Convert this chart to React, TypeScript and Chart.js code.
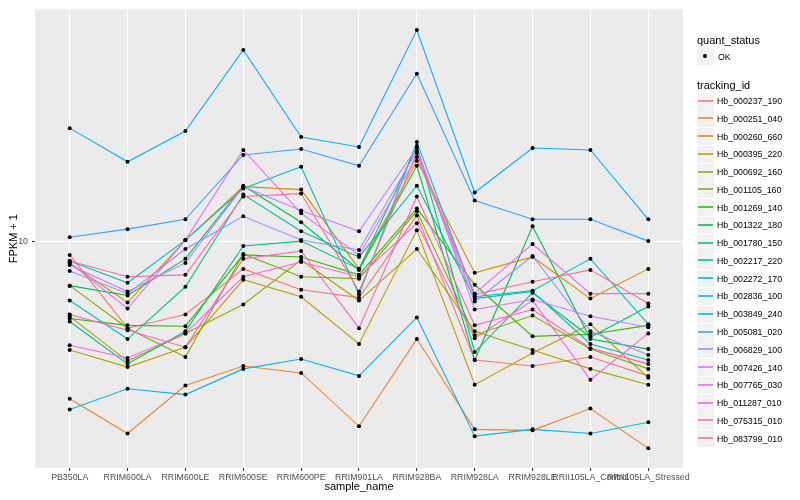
import { useEffect, useRef } from "react";
import { Chart, registerables } from "chart.js";

Chart.register(...registerables);

const FONT = "'Liberation Sans', Arial, Helvetica, sans-serif";

const samples = [
  "PB350LA", "RRIM600LA", "RRIM600LE", "RRIM600SE", "RRIM600PE", "RRIM901LA",
  "RRIM928BA", "RRIM928LA", "RRIM928LE", "RRII105LA_Control", "RRII105LA_Stressed",
];

const trackingIds = [
  "Hb_000237_190", "Hb_000251_040", "Hb_000260_660", "Hb_000395_220", "Hb_000692_160",
  "Hb_001105_160", "Hb_001269_140", "Hb_001322_180", "Hb_001780_150", "Hb_002217_220",
  "Hb_002272_170", "Hb_002836_100", "Hb_003849_240", "Hb_005081_020", "Hb_006829_100",
  "Hb_007426_140", "Hb_007765_030", "Hb_011287_010", "Hb_075315_010", "Hb_083799_010",
];

const trackingColors = [
  "#F8766D", "#EA8331", "#D89000", "#C09B00", "#A3A500",
  "#7CAE00", "#39B600", "#00BB4E", "#00BF7D", "#00C1A3",
  "#00BFC4", "#00BAE0", "#00B0F6", "#35A2FF", "#9590FF",
  "#C77CFF", "#E76BF3", "#FA62DB", "#FF62BC", "#FF6C91",
];

// FPKM + 1 per sample (same order as samples)
const hb000237_190 = [9.23, 6.03, 6.53, 8.51, 7.54, 7.2, 11.61, 5.01, 4.84, 5.1, 4.57];
const hb000251_040 = [4.0, 3.27, 4.32, 4.84, 4.65, 3.41, 5.66, 3.35, 3.33, 3.78, 3.0];
const hb000260_660 = [8.81, 7.0, 10.06, 13.72, 13.49, 8.51, 15.94, 8.32, 9.12, 7.16, 8.51];
const hb000395_220 = [5.31, 4.81, 5.4, 7.99, 7.24, 5.5, 10.65, 4.34, 5.22, 6.17, 4.52];
const hb000692_160 = [6.46, 4.98, 5.85, 6.92, 8.96, 7.08, 9.55, 5.92, 5.31, 4.76, 4.34];
const hb001105_160 = [7.72, 6.03, 5.1, 9.28, 8.13, 8.04, 11.89, 5.79, 6.49, 5.34, 4.76];
const hb001269_140 = [6.38, 6.13, 6.1, 9.23, 9.12, 8.22, 12.09, 7.76, 5.75, 5.82, 6.13];
const hb001322_180 = [7.72, 7.29, 9.02, 13.8, 11.16, 8.46, 15.49, 5.01, 10.9, 5.66, 5.34];
const hb001780_150 = [6.27, 4.9, 5.92, 9.72, 10.0, 8.51, 17.38, 5.25, 7.41, 5.72, 6.84];
const hb002217_220 = [7.08, 5.66, 7.67, 13.11, 10.59, 9.12, 13.8, 7.16, 7.46, 5.5, 5.01];
const hb002272_170 = [8.91, 7.85, 10.06, 13.57, 15.4, 7.33, 17.78, 7.24, 7.5, 9.02, 6.17];
const hb002836_100 = [3.76, 4.24, 4.1, 4.76, 5.04, 4.57, 6.42, 3.22, 3.35, 3.27, 3.49];
const hb003849_240 = [19.28, 15.85, 18.95, 30.37, 18.3, 17.28, 34.08, 13.26, 17.18, 16.98, 11.35];
const hb005081_020 = [10.23, 10.72, 11.35, 16.5, 17.08, 15.49, 26.45, 12.66, 11.35, 11.35, 10.0];
const hb006829_100 = [8.41, 7.37, 9.55, 11.55, 10.06, 9.5, 16.88, 7.04, 9.17, 5.92, 5.16];
const hb007426_140 = [8.71, 7.46, 8.81, 13.72, 11.95, 10.59, 17.18, 6.72, 7.12, 6.46, 6.06];
const hb007765_030 = [8.81, 6.76, 10.06, 16.98, 11.75, 9.23, 16.31, 7.37, 9.83, 7.37, 7.37];
const hb011287_010 = [5.46, 5.07, 5.85, 8.13, 8.86, 8.13, 11.09, 5.69, 7.08, 4.47, 5.85];
const hb075315_010 = [6.53, 5.96, 5.4, 9.02, 9.44, 6.03, 12.96, 6.13, 6.72, 5.37, 4.9];
const hb083799_010 = [8.91, 8.13, 8.22, 12.96, 13.18, 7.46, 16.69, 7.33, 7.9, 8.46, 6.96];

const seriesValues = [
  hb000237_190, hb000251_040, hb000260_660, hb000395_220, hb000692_160,
  hb001105_160, hb001269_140, hb001322_180, hb001780_150, hb002217_220,
  hb002272_170, hb002836_100, hb003849_240, hb005081_020, hb006829_100,
  hb007426_140, hb007765_030, hb011287_010, hb075315_010, hb083799_010,
];

const yTicks = [10];
const yMin = 2.676;
const yMax = 38.46;
const quantStatus = ["OK"];

const panelBg = {
  id: "panelBg",
  beforeDraw(chart: any) {
    const { ctx, chartArea } = chart;
    ctx.save();
    ctx.fillStyle = "#EBEBEB";
    ctx.fillRect(chartArea.left, chartArea.top, chartArea.right - chartArea.left, chartArea.bottom - chartArea.top);
    ctx.restore();
  },
};

function ChartCanvas() {
  const ref = useRef<HTMLCanvasElement | null>(null);
  useEffect(() => {
    if (!ref.current) return;
    const lineSets = seriesValues.map((vals, i) => ({
      type: "line" as const,
      label: trackingIds[i],
      data: vals.map((v, j) => ({ x: j, y: v })),
      borderColor: trackingColors[i],
      backgroundColor: trackingColors[i],
      borderWidth: 1.1,
      pointRadius: 0,
      tension: 0,
      fill: false,
      order: 100 - i,
    }));
    const pointSet = {
      type: "scatter" as const,
      label: quantStatus[0],
      data: seriesValues.flatMap((vals) => vals.map((v, j) => ({ x: j, y: v }))),
      showLine: false,
      pointRadius: 2,
      pointBackgroundColor: "#000000",
      pointBorderWidth: 0,
      borderColor: "#000000",
      order: 0,
    };
    const chart = new Chart(ref.current, {
      type: "line",
      data: { datasets: [...lineSets, pointSet] as any },
      plugins: [panelBg],
      options: {
        animation: false,
        responsive: false,
        events: [],
        layout: { padding: { top: 5, right: 117, left: 0, bottom: 0 } },
        plugins: { legend: { display: false }, tooltip: { enabled: false } },
        scales: {
          x: {
            type: "linear",
            min: -0.6,
            max: 10.6,
            bounds: "data",
            afterBuildTicks: (s: any) => {
              s.ticks = samples.map((_, i) => ({ value: i }));
            },
            afterFit: (s: any) => {
              s.height = 32;
            },
            ticks: {
              autoSkip: false,
              maxRotation: 0,
              minRotation: 0,
              padding: 1,
              color: "#4D4D4D",
              font: { family: FONT, size: 8.8 },
              callback: (v: any) => samples[Math.round(Number(v))] ?? "",
            },
            grid: { color: "#FFFFFF", lineWidth: 1.07, tickColor: "#333333", tickLength: 3 },
            border: { display: false },
            title: {
              display: true,
              text: "sample_name",
              color: "#000000",
              font: { family: FONT, size: 11 },
              padding: { top: 0, bottom: 6 },
            },
          },
          y: {
            type: "logarithmic",
            min: yMin,
            max: yMax,
            bounds: "data",
            afterBuildTicks: (s: any) => {
              s.ticks = yTicks.map((v) => ({ value: v }));
            },
            afterFit: (s: any) => {
              s.width = 35;
            },
            ticks: {
              padding: 4,
              color: "#4D4D4D",
              font: { family: FONT, size: 8.8 },
              callback: (v: any) => String(v),
            },
            grid: { color: "#FFFFFF", lineWidth: 1.07, tickColor: "#333333", tickLength: 3 },
            border: { display: false },
            title: {
              display: true,
              text: "FPKM + 1",
              color: "#000000",
              font: { family: FONT, size: 11 },
              padding: { top: 7, bottom: 0 },
            },
          },
        },
      } as any,
    });
    return () => chart.destroy();
  }, []);
  return <canvas ref={ref} width={800} height={500} style={{ position: "absolute", left: 0, top: 0, width: 800, height: 500 }} />;
}

export default function App() {
  const rowH = 17.77;
  const firstRow = 101;
  return (
    <div style={{ position: "fixed", left: 0, top: 0, width: 800, height: 500, background: "#FFFFFF", fontFamily: FONT, overflow: "hidden" }}>
      <ChartCanvas />
      <div style={{ position: "absolute", left: 697, top: 33, fontSize: 11, lineHeight: "14px", color: "#000" }}>quant_status</div>
      <div style={{ position: "absolute", left: 697, top: 48, width: 17, height: 17, background: "#F2F2F2" }}>
        <div style={{ position: "absolute", left: 6, top: 6, width: 4, height: 4, borderRadius: "50%", background: "#000" }} />
      </div>
      <div style={{ position: "absolute", left: 718, top: 51, fontSize: 8.8, lineHeight: "12px", color: "#000" }}>{quantStatus[0]}</div>
      <div style={{ position: "absolute", left: 697, top: 78, fontSize: 11, lineHeight: "14px", color: "#000" }}>tracking_id</div>
      {trackingIds.map((id, i) => {
        const cy = firstRow + i * rowH;
        const top = Math.round(cy - 8.5);
        return (
          <div key={id}>
            <div style={{ position: "absolute", left: 697, top, width: 17, height: 17, background: "#F2F2F2" }}>
              <div style={{ position: "absolute", left: 1, width: 15, top: 7, height: 2, background: trackingColors[i], opacity: 0.8 }} />
            </div>
            <div style={{ position: "absolute", left: 717, top: Math.round(cy - 6), fontSize: 8.8, lineHeight: "12px", color: "#000", whiteSpace: "nowrap" }}>{id}</div>
          </div>
        );
      })}
    </div>
  );
}
